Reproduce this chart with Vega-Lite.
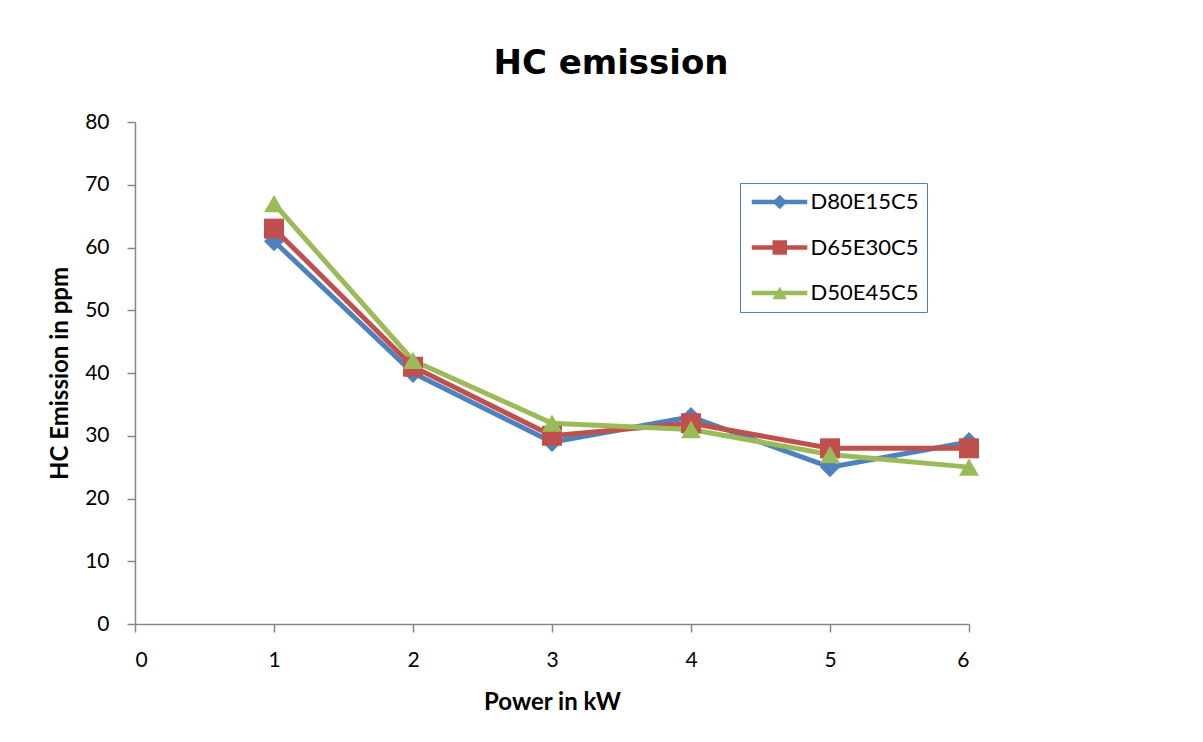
{
  "$schema": "https://vega.github.io/schema/vega-lite/v6.json",
  "width": 834,
  "height": 502,
  "autosize": {"type": "none"},
  "padding": {"left": 135, "top": 122, "right": 234, "bottom": 118},
  "background": "white",
  "title": {
    "text": "HC emission",
    "fontSize": 34,
    "font": "DejaVu Sans",
    "fontWeight": "bold",
    "color": "#000000",
    "frame": "group",
    "anchor": "middle",
    "baseline": "alphabetic",
    "offset": 3,
    "dx": 59
  },
  "config": {
    "font": "Lato",
    "view": {"stroke": null},
    "axis": {
      "grid": false,
      "domainColor": "#868686",
      "tickColor": "#868686",
      "domainWidth": 1.5,
      "tickWidth": 1.5,
      "tickSize": 8,
      "labelFontSize": 21,
      "labelColor": "#000000",
      "labelFont": "Lato",
      "titleFont": "Lato",
      "titleFontSize": 24,
      "titleFontWeight": "bold",
      "titleColor": "#000000"
    }
  },
  "data": {
    "values": [
      {"power": 1, "hc": 61, "blend": "D80E15C5"},
      {"power": 2, "hc": 40, "blend": "D80E15C5"},
      {"power": 3, "hc": 29, "blend": "D80E15C5"},
      {"power": 4, "hc": 33, "blend": "D80E15C5"},
      {"power": 5, "hc": 25, "blend": "D80E15C5"},
      {"power": 6, "hc": 29, "blend": "D80E15C5"},
      {"power": 1, "hc": 63, "blend": "D65E30C5"},
      {"power": 2, "hc": 41, "blend": "D65E30C5"},
      {"power": 3, "hc": 30, "blend": "D65E30C5"},
      {"power": 4, "hc": 32, "blend": "D65E30C5"},
      {"power": 5, "hc": 28, "blend": "D65E30C5"},
      {"power": 6, "hc": 28, "blend": "D65E30C5"},
      {"power": 1, "hc": 67, "blend": "D50E45C5"},
      {"power": 2, "hc": 42, "blend": "D50E45C5"},
      {"power": 3, "hc": 32, "blend": "D50E45C5"},
      {"power": 4, "hc": 31, "blend": "D50E45C5"},
      {"power": 5, "hc": 27, "blend": "D50E45C5"},
      {"power": 6, "hc": 25, "blend": "D50E45C5"}
    ]
  },
  "encoding": {
    "x": {
      "field": "power",
      "type": "quantitative",
      "scale": {"domain": [0, 6], "nice": false},
      "axis": {"values": [0, 1, 2, 3, 4, 5, 6], "title": "Power in kW", "labelPadding": 17, "titlePadding": 20, "format": "d"}
    },
    "y": {
      "field": "hc",
      "type": "quantitative",
      "scale": {"domain": [0, 80], "nice": false},
      "axis": {"values": [0, 10, 20, 30, 40, 50, 60, 70, 80], "title": "HC Emission in ppm", "labelPadding": 18, "titlePadding": 12}
    }
  },
  "layer": [
    {
      "mark": {"type": "line", "strokeWidth": 5},
      "encoding": {
        "color": {
          "field": "blend",
          "type": "nominal",
          "sort": ["D80E15C5", "D65E30C5", "D50E45C5"],
          "scale": {"domain": ["D80E15C5", "D65E30C5", "D50E45C5"], "range": ["#4f81bd", "#c0504d", "#9bbb59"]},
          "legend": {
            "title": null,
            "orient": "none",
            "legendX": 605,
            "legendY": 61,
            "strokeColor": "#4f81bd",
            "fillColor": "white",
            "padding": 8,
            "labelFontSize": 22,
            "labelFont": "Lato",
            "labelColor": "#000000",
            "symbolType": "M-3.7,0L3.7,0",
            "symbolSize": 225,
            "symbolOffset": 20.5,
            "labelOffset": 20,
            "rowPadding": 23.5,
            "symbolStrokeWidth": 4.5,
            "symbolOpacity": 1
          }
        }
      }
    },
    {
      "mark": {"type": "point", "filled": true, "opacity": 1, "size": 400},
      "encoding": {
        "color": {
          "field": "blend",
          "type": "nominal",
          "sort": ["D80E15C5", "D65E30C5", "D50E45C5"],
          "scale": {"domain": ["D80E15C5", "D65E30C5", "D50E45C5"], "range": ["#4f81bd", "#c0504d", "#9bbb59"]},
          "legend": {
            "title": null,
            "orient": "none",
            "legendX": 605,
            "legendY": 61,
            "strokeColor": null,
            "fillColor": null,
            "padding": 8,
            "labelFontSize": 22,
            "labelFont": "Lato",
            "labelOpacity": 0,
            "symbolSize": 210,
            "symbolOffset": 20.75,
            "labelOffset": 20,
            "rowPadding": 23.5,
            "symbolOpacity": 1
          }
        },
        "shape": {
          "field": "blend",
          "type": "nominal",
          "scale": {"domain": ["D80E15C5", "D65E30C5", "D50E45C5"], "range": ["diamond", "square", "triangle-up"]}
        }
      }
    }
  ],
  "resolve": {"legend": {"color": "independent", "shape": "independent"}}
}
